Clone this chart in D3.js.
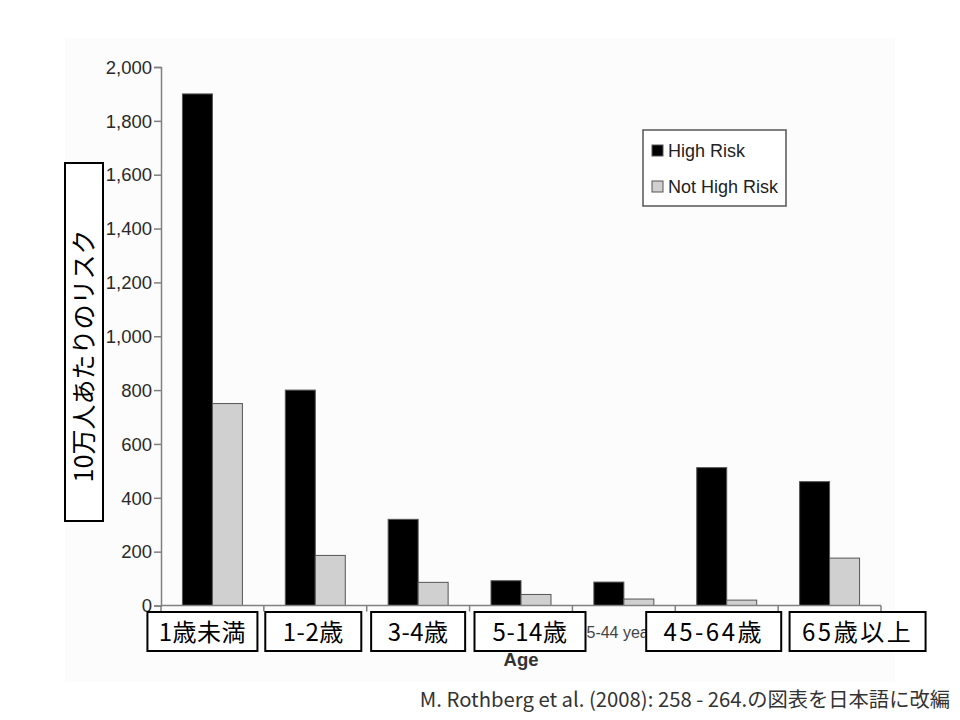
<!DOCTYPE html>
<html><head><meta charset="utf-8">
<script src="https://cdn.jsdelivr.net/npm/d3@7"></script>
<style>
html,body{margin:0;padding:0;background:#fff;}
svg{display:block;}
</style>
</head><body>
<svg id="chart" width="960" height="720"></svg>
<script>
// ---- data ----
const categories = ["<1 year", "1-2 years", "3-4 years", "5-14 years", "25-44 years", "45-64 years", "65+ years"];
const jpLabels = ["1歳未満", "1-2歳", "3-4歳", "5-14歳", null, "45-64歳", "65歳以上"];
const highRisk = [1900, 800, 320, 92, 87, 512, 460];
const notHighRisk = [750, 186, 86, 41, 24, 20, 176];
const seriesNames = ["High Risk", "Not High Risk"];
const yTicks = [0, 200, 400, 600, 800, 1000, 1200, 1400, 1600, 1800, 2000];
const yTitle = "10万人あたりのリスク";
const xTitle = "Age";
const sourceNote = "M. Rothberg et al.  (2008): 258 - 264.の図表を日本語に改編";

// ---- layout ----
const svg = d3.select("#chart");
const plot = {left: 161, right: 881, top: 67, bottom: 605.5};
const colors = {"High Risk": "#000000", "Not High Risk": "#d0d0d0"};
const latin = "'Liberation Sans', Arial, sans-serif";
const cjk = "'Noto Sans CJK JP', 'Noto Sans', sans-serif";

// faint scanned background
svg.append("rect").attr("x", 65).attr("y", 38).attr("width", 830).attr("height", 644).attr("fill", "#fcfcfc");

const x = d3.scaleBand().domain(categories).range([plot.left, plot.right]).paddingInner(0).paddingOuter(0);
const xs = d3.scaleBand().domain(seriesNames).range([0, x.bandwidth()]).paddingInner(0).paddingOuter(0.715);
const y = d3.scaleLinear().domain([0, 2000]).range([plot.bottom, plot.top]);

const rows = categories.map((c, i) => ({cat: c, vals: [
  {name: "High Risk", v: highRisk[i]}, {name: "Not High Risk", v: notHighRisk[i]}]}));

// bars
const g = svg.append("g");
g.selectAll("g.cat").data(rows).join("g").attr("class", "cat")
  .attr("transform", d => `translate(${x(d.cat)},0)`)
  .selectAll("rect").data(d => d.vals).join("rect")
  .attr("x", d => xs(d.name))
  .attr("width", xs.bandwidth())
  .attr("y", d => y(d.v))
  .attr("height", d => y(0) - y(d.v))
  .attr("fill", d => colors[d.name])
  .attr("stroke", "#555").attr("stroke-width", 1);

// y axis
const yAxis = svg.append("g").attr("transform", `translate(${plot.left},0)`)
  .call(d3.axisLeft(y).tickValues(yTicks).tickFormat(d3.format(",")).tickSize(7).tickPadding(2));
yAxis.select(".domain").attr("stroke", "#808080").attr("stroke-width", 1.5);
yAxis.selectAll(".tick line").attr("stroke", "#808080").attr("stroke-width", 1.5);
yAxis.selectAll(".tick text").attr("font-family", latin).attr("font-size", 18.5).attr("fill", "#2a2a2a").attr("dy", "0.34em");

// x axis
const xAxisG = svg.append("g").attr("transform", `translate(0,${plot.bottom})`);
xAxisG.append("line").attr("x1", plot.left).attr("x2", plot.right).attr("stroke", "#808080").attr("stroke-width", 1.5);
const bounds = categories.map(c => x(c)).concat([plot.right]);
xAxisG.selectAll("line.tk").data(bounds).join("line").attr("class", "tk")
  .attr("x1", d => d).attr("x2", d => d).attr("y1", 0).attr("y2", 6)
  .attr("stroke", "#808080").attr("stroke-width", 1.5);
// original english label left uncovered
xAxisG.selectAll("text.orig").data(categories.filter((c, i) => !jpLabels[i])).join("text").attr("class", "orig")
  .attr("x", d => x(d) + x.bandwidth() / 2 - 4).attr("y", 32)
  .attr("text-anchor", "middle").attr("font-family", latin).attr("font-size", 16)
  .attr("fill", "#444").text(d => d);

// x title
svg.append("text").attr("x", (plot.left + plot.right) / 2).attr("y", 666)
  .attr("text-anchor", "middle").attr("font-family", latin).attr("font-weight", "bold")
  .attr("font-size", 18.5).attr("fill", "#333").text(xTitle);

// Japanese label boxes (overlay annotations): [center offset from band centre, box width]
const boxLayout = [[-10, 110], [-2, 96], [0, 94], [9, 111], null, [-13, 135], [28, 136]];
const boxLayer = svg.append("g");
jpLabels.forEach((lab, i) => {
  if (!lab) return;
  const [off, w] = boxLayout[i];
  const cx = x(categories[i]) + x.bandwidth() / 2 + off;
  const gg = boxLayer.append("g");
  gg.append("rect").attr("x", cx - w / 2).attr("y", 612).attr("width", w).attr("height", 39)
    .attr("fill", "#fff").attr("stroke", "#000").attr("stroke-width", 2);
  gg.append("text").attr("x", cx).attr("y", 641)
    .attr("text-anchor", "middle").attr("font-family", cjk).attr("font-size", 24)
    .attr("letter-spacing", /[0-9]/.test(lab[1]) ? 2.5 : 0.5).attr("fill", "#000").text(lab);
});

// y title box
const yt = svg.append("g");
yt.append("rect").attr("x", 65).attr("y", 163).attr("width", 38).attr("height", 358)
  .attr("fill", "#fff").attr("stroke", "#000").attr("stroke-width", 2);
yt.append("text").attr("transform", "translate(93,356) rotate(-90)")
  .attr("text-anchor", "middle").attr("font-family", cjk).attr("font-size", 25)
  .attr("fill", "#000").text(yTitle);

// legend
const lg = svg.append("g");
lg.append("rect").attr("x", 643).attr("y", 130).attr("width", 143).attr("height", 76)
  .attr("fill", "#fff").attr("stroke", "#555").attr("stroke-width", 1.5);
seriesNames.forEach((s, i) => {
  const yy = 145 + i * 36;
  lg.append("rect").attr("x", 652).attr("y", yy).attr("width", 11).attr("height", 11)
    .attr("fill", colors[s]).attr("stroke", "#555").attr("stroke-width", 1);
  lg.append("text").attr("x", 668).attr("y", yy + 11.5).attr("font-family", latin)
    .attr("font-size", 18).attr("fill", "#222").text(s);
});

// source note
svg.append("text").attr("x", 950).attr("y", 707).attr("text-anchor", "end")
  .attr("font-family", cjk).attr("font-size", 20.3).attr("fill", "#333").text(sourceNote);
</script>
</body></html>
